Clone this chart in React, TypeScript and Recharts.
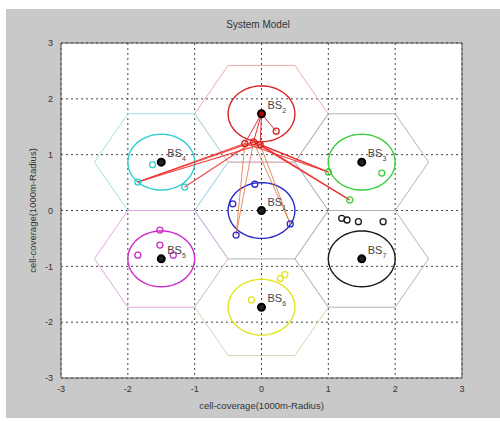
import React from "react";
import {
  ScatterChart,
  Scatter,
  XAxis,
  YAxis,
  CartesianGrid,
  ReferenceArea,
} from "recharts";

// base stations (cell centres, km)
const bsNames = ["1", "2", "3", "4", "5", "6", "7"];
const bsX = [0, 0, 1.5, -1.5, -1.5, 0, 1.5];
const bsY = [0, 1.732, 0.866, 0.866, -0.866, -1.732, -0.866];
const cellRadius = 1;
const coverRadius = 0.5;

// users per cell
const ue1 = [[-0.1, 0.47], [-0.43, 0.12], [-0.38, -0.44], [0.43, -0.24]];
const ue2 = [[-0.25, 1.2], [-0.12, 1.23], [-0.02, 1.18], [0.22, 1.42]];
const ue3 = [[1.0, 0.69], [1.8, 0.67], [1.32, 0.19]];
const ue4 = [[-1.63, 0.82], [-1.85, 0.51], [-1.15, 0.42]];
const ue5 = [[-1.52, -0.35], [-1.52, -0.62], [-1.85, -0.8], [-1.32, -0.8]];
const ue6 = [[0.35, -1.15], [0.28, -1.22], [-0.15, -1.6]];
const ue7 = [[1.2, -0.14], [1.28, -0.17], [1.45, -0.2], [1.82, -0.2]];
const users = [ue1, ue2, ue3, ue4, ue5, ue6, ue7];

// links [x1, y1, x2, y2]
const servingLinks = [
  [0, 1.732, -0.25, 1.2],
  [0, 1.732, -0.12, 1.23],
  [0, 1.732, -0.02, 1.18],
  [0, 1.732, 0.22, 1.42],
];
const interfLinks = [
  [-0.25, 1.2, -1.85, 0.51],
  [-0.12, 1.23, -1.85, 0.51],
  [-0.02, 1.18, -1.85, 0.51],
  [-0.12, 1.23, -1.15, 0.42],
  [-0.25, 1.2, 1.0, 0.69],
  [-0.12, 1.23, 1.0, 0.69],
  [-0.02, 1.18, 1.0, 0.69],
  [-0.12, 1.23, 1.32, 0.19],
  [-0.02, 1.18, 1.32, 0.19],
];
const crossLinks = [
  [-0.25, 1.2, -0.38, -0.44],
  [-0.12, 1.23, -0.38, -0.44],
  [-0.12, 1.23, 0.43, -0.24],
  [-0.02, 1.18, 0.43, -0.24],
];

const ticks = [-3, -2, -1, 0, 1, 2, 3];

const cellColors = ["#2a2ac8", "#d82424", "#3ccc3c", "#30d0d0", "#cc2ccc", "#e4e41c", "#1a1a1a"];
const hexColors = ["#a9c4e4", "#eeaaaa", "#b4b4b4", "#9ee4e4", "#e2a6e2", "#d6d6b4", "#b4b4b4"];

const pts = (a: number[][]) => a.map(([x, y]) => ({ x, y }));

function ring(cx: number, cy: number, r: number, n: number) {
  const out: { x: number; y: number }[] = [];
  for (let i = 0; i <= n; i++) {
    const t = (i / n) * Math.PI * 2;
    out.push({ x: cx + r * Math.cos(t), y: cy + r * Math.sin(t) });
  }
  return out;
}

const noDot = () => <g />;

const ueDot = (color: string) => (p: any) =>
  <circle cx={p.cx} cy={p.cy} r={3} fill="none" stroke={color} strokeWidth={1.3} />;

const bsDot = (p: any) => (
  <circle
    cx={p.cx}
    cy={p.cy}
    r={3.5}
    fill={p.payload.name === "2" ? "#c00000" : "#222"}
    stroke="#000"
    strokeWidth={2}
  />
);

const bsLabel = (p: any) => (
  <text x={p.cx + 6} y={p.cy - 5} fontSize={11} fill="#444" fontFamily="Liberation Sans, Arial">
    BS
    <tspan fontSize={7} dy={4}>
      {p.payload.name}
    </tspan>
  </text>
);

const font = "Liberation Sans, Arial, sans-serif";

export default function App() {
  const stations = bsNames.map((name, i) => ({ name, x: bsX[i], y: bsY[i] }));
  const segment = (l: number[]) => [
    { x: l[0], y: l[1] },
    { x: l[2], y: l[3] },
  ];
  return (
    <div style={{ position: "absolute", left: 0, top: 0, width: 500, height: 421, background: "#fff" }}>
      <div style={{ position: "absolute", left: 6, top: 9, width: 494, height: 409, background: "#c9c9c9" }} />
      <div
        style={{
          position: "absolute",
          left: 158,
          top: 19,
          width: 200,
          textAlign: "center",
          fontFamily: font,
          fontSize: 10,
          color: "#333",
        }}
      >
        System Model
      </div>
      <div style={{ position: "absolute", left: 0, top: 0 }}>
        <ScatterChart width={500} height={421} margin={{ top: 43, right: 38, left: 31, bottom: 10 }}>
          <CartesianGrid fill="#fff" stroke="#444" strokeDasharray="2 3" />
          <XAxis
            type="number"
            dataKey="x"
            domain={[-3, 3]}
            ticks={ticks}
            allowDataOverflow
            height={33}
            axisLine={false}
            tickLine={false}
            tick={{ fontSize: 9, fill: "#333", fontFamily: font }}
            label={{ value: "cell-coverage(1000m-Radius)", position: "insideBottom", offset: 2, fontSize: 9.5, fill: "#333", fontFamily: font }}
          />
          <YAxis
            type="number"
            dataKey="y"
            domain={[-3, 3]}
            ticks={ticks}
            allowDataOverflow
            width={30}
            axisLine={false}
            tickLine={false}
            tick={{ fontSize: 9, fill: "#333", fontFamily: font }}
            label={{
              value: "cell-coverage(1000m-Radius)",
              angle: -90,
              position: "insideLeft",
              offset: 2,
              fontSize: 9.5,
              fill: "#333",
              fontFamily: font,
              style: { textAnchor: "middle" },
            }}
          />
          <ReferenceArea x1={-3} x2={3} y1={-3} y2={3} fill="none" stroke="#555" strokeWidth={1} />
          {stations.map((s, i) => (
            <Scatter
              key={"hex" + i}
              data={ring(s.x, s.y, cellRadius, 6)}
              line={{ stroke: hexColors[i], strokeWidth: 1 }}
              shape={noDot}
              isAnimationActive={false}
            />
          ))}
          {stations.map((s, i) => (
            <Scatter
              key={"cov" + i}
              data={ring(s.x, s.y, coverRadius, 64)}
              line={{ stroke: cellColors[i], strokeWidth: 1.4 }}
              shape={noDot}
              isAnimationActive={false}
            />
          ))}
          {servingLinks.map((l, i) => (
            <Scatter key={"sv" + i} data={segment(l)} line={{ stroke: "#e03030", strokeWidth: 1 }} shape={noDot} isAnimationActive={false} />
          ))}
          {interfLinks.map((l, i) => (
            <Scatter key={"if" + i} data={segment(l)} line={{ stroke: "#ee2a2a", strokeWidth: 1.2, strokeOpacity: 0.85 }} shape={noDot} isAnimationActive={false} />
          ))}
          {crossLinks.map((l, i) => (
            <Scatter key={"cx" + i} data={segment(l)} line={{ stroke: "#e2784a", strokeWidth: 1, strokeOpacity: 0.85 }} shape={noDot} isAnimationActive={false} />
          ))}
          {users.map((u, i) => (
            <Scatter key={"ue" + i} data={pts(u)} shape={ueDot(cellColors[i])} isAnimationActive={false} />
          ))}
          <Scatter data={stations} shape={bsDot} isAnimationActive={false} />
          <Scatter data={stations} shape={bsLabel} isAnimationActive={false} />
        </ScatterChart>
      </div>
    </div>
  );
}
